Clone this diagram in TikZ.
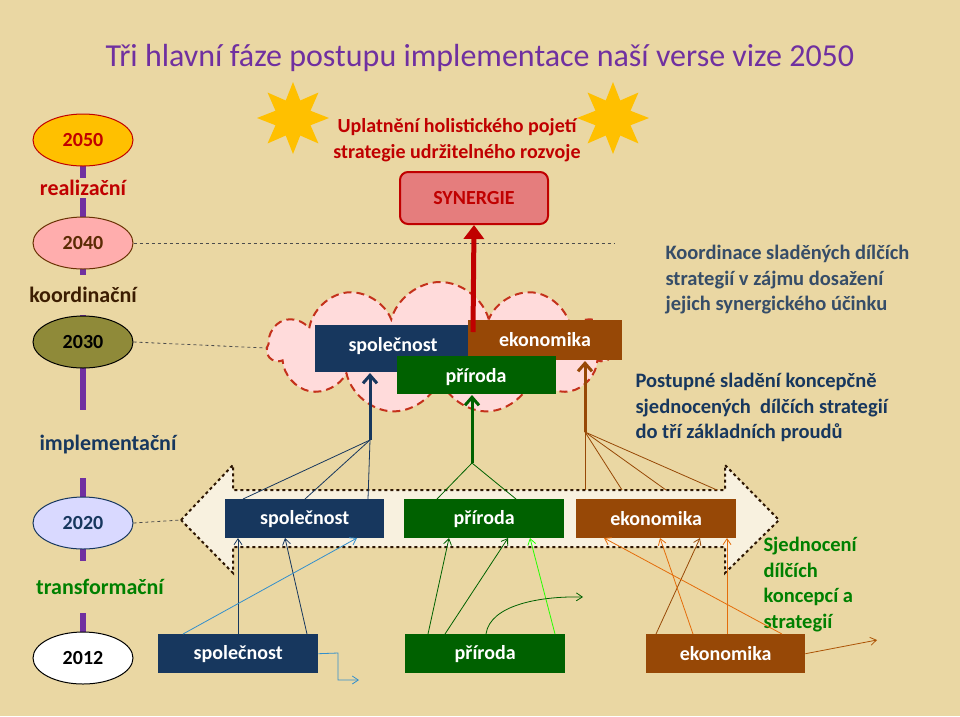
\documentclass[tikz,border=0pt]{standalone}
\usepackage{fontspec}
\setmainfont{Carlito}
\usetikzlibrary{shapes.symbols,shapes.geometric,arrows.meta}
\definecolor{bg}{HTML}{EAD7A3}
\definecolor{navy}{HTML}{17375E}
\definecolor{dgreen}{HTML}{006100}
\definecolor{brown}{HTML}{974806}
\definecolor{dred}{HTML}{C00000}
\definecolor{purp}{HTML}{7030A0}
\definecolor{orng}{HTML}{E46C0A}
\definecolor{sunc}{HTML}{FFC000}
\tikzset{
  yr/.style={ellipse,draw=#1,line width=1pt,minimum width=100pt,minimum height=52pt,font=\bfseries\fontsize{20}{24}\selectfont},
  phase/.style={fill=bg,inner sep=2pt,font=\bfseries\fontsize{22}{26}\selectfont},
  box/.style={fill=#1,text=white,font=\bfseries\fontsize{20}{24}\selectfont,inner sep=0pt,anchor=north west},
  lbl/.style={text=white,font=\bfseries\fontsize{20}{24}\selectfont,inner sep=0pt},
  body/.style={font=\bfseries\fontsize{20.5}{25.5}\selectfont,align=left,anchor=north west},
  fan/.style={line width=0.8pt},
  tip/.style={-{Straight Barb[length=6pt,width=8pt]}},
  sun/.style={star,star points=8,star point ratio=1.9,fill=sunc,minimum size=72pt,inner sep=0pt},
  gl/.style={gray!60!black,dashed,line width=0.8pt}
}
\begin{document}
\begin{tikzpicture}[x=1pt,y=-1pt]
\useasboundingbox (0,0) rectangle (960,716);
\fill[bg] (0,0) rectangle (960,716);
\node[font=\fontsize{32}{36}\selectfont,text=purp] (title) at (480,58) {Tři hlavní fáze postupu implementace naší verse vize 2050};
% timeline
\draw[purp,line width=6pt] (83,140) -- (83,658);
\node[yr=dred,fill=sunc,text=dred] (y50) at (83,140) {2050};
\node[phase,text=dred] (p1) at (83,188) {realizační};
\node[yr=brown!70!black,fill=red!20!pink!80!white,text=brown!60!black] (y40) at (83,243) {2040};
\node[phase,text=brown!40!black,inner ysep=12pt] (p2) at (83,295) {koordinační};
\node[yr=black,fill=olive!60!gray,text=black] (y30) at (83,342) {2030};
\node[phase,text=navy,inner ysep=25pt] (p3) at (108,444) {implementační};
\node[yr=navy,fill=blue!15!white,text=navy] (y20) at (83,523) {2020};
\node[phase,text=green!50!black,inner ysep=18pt] (p4) at (100,587) {transformační};
\node[yr=black,fill=white,text=black] (y12) at (83,658) {2012};
% suns
\node[sun] (s1) at (293,118) {};
\node[sun] (s2) at (613,118) {};
\node[text=dred,align=center,font=\bfseries\fontsize{20}{26}\selectfont] (hol) at (457,140) {Uplatnění holistického pojetí\\strategie udržitelného rozvoje};
\node[draw=dred,line width=2pt,fill=red!35!pink!80!gray,rounded corners=8pt,minimum width=148pt,minimum height=52pt,text=dred,font=\bfseries\fontsize{20}{24}\selectfont] (syn) at (474,198) {SYNERGIE};
% dashed guides
\coordinate (g40) at (615,243);
\draw[gl] (y40.east) -- (g40);
% cloud
\node[cloud,cloud puffs=11,aspect=2.6,draw=red!60!brown!80!gray,dash pattern=on 8pt off 5pt,line width=2pt,fill=red!8!pink!45!white,minimum width=345pt,minimum height=132pt] (cl) at (440,348) {};
\draw[gl] (y30.east) -- (cl.west);
\node[box=navy,minimum width=155pt,minimum height=47pt] (cs) at (315,325) {};
\node[box=brown,minimum width=154pt,minimum height=40pt] (ce) at (468,320) {};
\node[box=dgreen,minimum width=159pt,minimum height=38pt] (cp) at (397,356) {};
\node[lbl] (csl) at (393,346) {společnost};
\node[lbl] (cel) at (545,340) {ekonomika};
\node[lbl] (cpl) at (476,377) {příroda};
\draw[dred,line width=5pt,-{Triangle[length=14pt,width=20pt]}] (473,332) -- (syn.south);
% right texts
\node[body,text=navy!70!gray] (t1) at (662,242) {Koordinace sladěných dílčích\\strategií v zájmu dosažení\\jejich synergického účinku};
\node[body,text=navy] (t2) at (632,370) {Postupné sladění koncepčně\\sjednocených \ dílčích strategií\\do tří základních proudů};
\node[body,text=green!50!black] (t3) at (760,534) {Sjednocení\\dílčích\\koncepcí a\\strategií};
% double arrow
\draw[dashed,line width=2pt,draw=black!70!brown,fill=white!65!bg] (181,520) -- (233,465) -- (233,490) -- (725,490) -- (725,465) -- (779,520) -- (725,573) -- (725,547) -- (233,547) -- (233,573) -- cycle;
\draw[gl] (y20.east) -- (181,520);
% 2020 boxes
\node[box=navy,minimum width=159pt,minimum height=39pt] (ms) at (225,499) {společnost};
\node[box=dgreen,minimum width=160pt,minimum height=39pt] (mp) at (404,499) {příroda};
\node[box=brown,minimum width=160pt,minimum height=39pt] (me) at (576,499) {ekonomika};
% 2012 boxes
\node[box=navy,minimum width=160pt,minimum height=39pt] (bs) at (158,634) {společnost};
\node[box=dgreen,minimum width=160pt,minimum height=39pt] (bp) at (405,634) {příroda};
\node[box=brown,minimum width=159pt,minimum height=39pt] (be) at (646,634) {ekonomika};
% arrows into cloud
\coordinate (an) at (370,440);
\coordinate (ag) at (472,463);
\coordinate (ab) at (585,432);
\draw[navy,line width=3pt,-{Straight Barb[length=8pt,width=14pt]}] (an) -- (370,373);
\draw[dgreen,line width=3pt,-{Straight Barb[length=8pt,width=14pt]}] (ag) -- (472,395);
\draw[brown,line width=3pt,-{Straight Barb[length=8pt,width=14pt]}] (ab) -- (585,361);
\foreach \x in {243,305,368} \draw[navy,fan] (an) -- (\x,499);
\foreach \x in {437,516} \draw[dgreen,fan] (ag) -- (\x,499);
\foreach \x in {585,622,666,717} \draw[brown,fan] (ab) -- (\x,490);
% 2012 -> 2020
\draw[navy,fan,tip] (238,634) -- (238,538);
\draw[navy,fan,tip] (307,634) -- (285,538);
\draw[blue!40!cyan!60!gray,fan,tip] (183,634) -- (357,538);
\draw[dgreen,fan,tip] (428,634) -- (449,538);
\draw[dgreen,fan,tip] (445,634) -- (508,538);
\draw[green!80!lime,fan,tip] (555,634) -- (530,538);
\draw[dgreen,fan,tip] (486,634) .. controls (490,605) and (540,596) .. (583,597);
\draw[brown,fan,tip] (656,634) -- (700,538);
\draw[orng,fan,tip] (693,634) -- (660,538);
\draw[orng,fan,tip] (727,634) -- (727,538);
\draw[orng,fan,tip] (782,634) -- (604,538);
\draw[blue!40!cyan!60!gray,fan,tip] (bs.east) -- (338,653) -- (338,680) -- (359,680);
\draw[brown!80!orange,fan,tip] (be.east) -- (877,640);
\end{tikzpicture}
\end{document}
